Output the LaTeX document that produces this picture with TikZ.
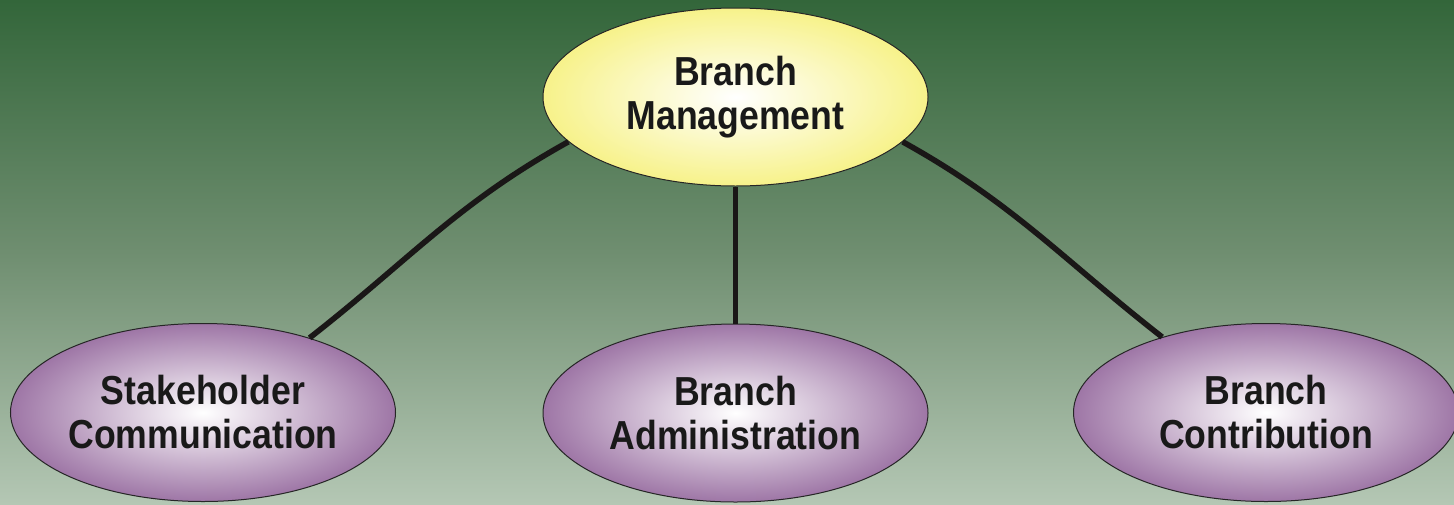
\documentclass[tikz,border=0pt]{standalone}
\usepackage{fontspec}
\setmainfont{Liberation Sans}
\newfontfamily\lblfont[FakeStretch=0.88]{Liberation Sans}
\usetikzlibrary{shapes.geometric}
\definecolor{bgtop}{HTML}{33663A}
\definecolor{bgmid}{HTML}{6F8E70}
\definecolor{bgbot}{HTML}{B4C7B4}
\definecolor{yedge}{HTML}{F7F28A}
\definecolor{pedge}{HTML}{9E76A6}
\definecolor{linec}{HTML}{1A1717}
\tikzset{
  lbl/.style={ellipse, draw=black!85, line width=0.5pt, minimum width=192.5pt, minimum height=89pt, inner sep=0pt,
    font=\lblfont\bfseries\fontsize{20.25}{22}\selectfont, align=center, text=black!90},
  topbox/.style={lbl, inner color=white, outer color=yedge},
  subbox/.style={lbl, inner color=white, outer color=pedge},
  conn/.style={draw=linec, line width=2.8pt}
}
\begin{document}
\begin{tikzpicture}[x=0.5pt,y=-0.5pt]
\useasboundingbox (0,0) rectangle (1454,504);
\shade[top color=bgtop, bottom color=bgbot, middle color=bgmid] (0,0) rectangle (1454,504);
\node[topbox] (top) at (735.5,97) {Branch\\Management};
\node[subbox] (sl) at (203,412.5) {Stakeholder\\Communication};
\node[subbox] (sm) at (735.5,413) {Branch\\Administration};
\node[subbox] (sr) at (1266,412.5) {Branch\\Contribution};
\draw[conn] (top.195) to[out=209,in=38] (sl.35);
\draw[conn] (top.south) -- (sm.north);
\draw[conn] (top.345) to[out=-29,in=142] (sr.144);
\end{tikzpicture}
\end{document}
